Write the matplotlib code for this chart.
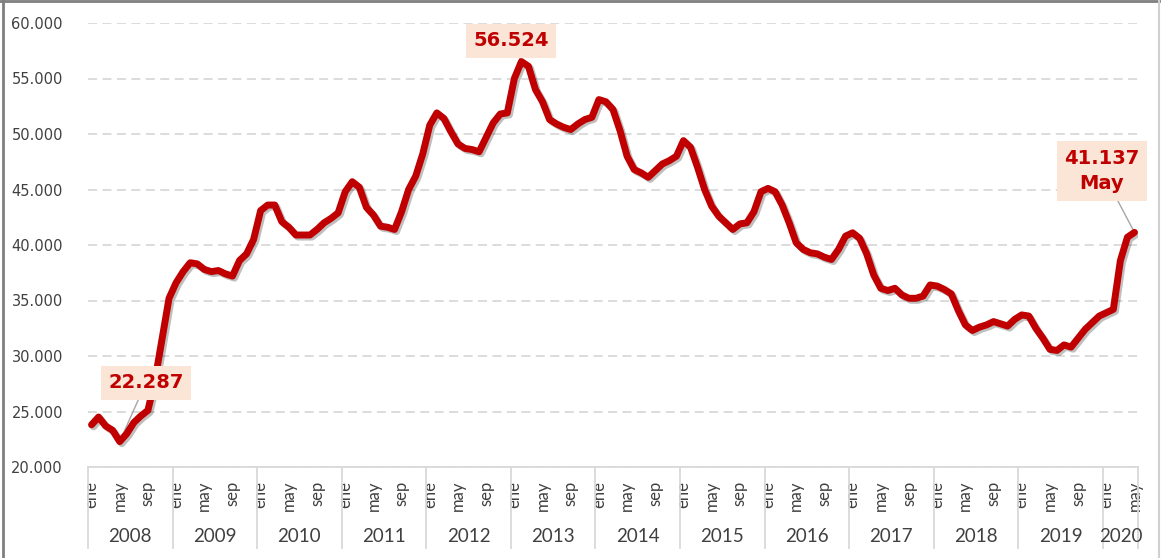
import numpy as np
import matplotlib
matplotlib.use("Agg")
from matplotlib import pyplot as plt
import matplotlib.ticker as ticker
import matplotlib.patheffects as pe
from matplotlib.lines import Line2D
import matplotlib.transforms as mtransforms

# Datos mensuales, ene 2008 - may 2020
years = [2008, 2009, 2010, 2011, 2012, 2013, 2014, 2015, 2016, 2017, 2018, 2019, 2020]
month_names = ["ene", "feb", "mar", "abr", "may", "jun",
               "jul", "ago", "sep", "oct", "nov", "dic"]

v2008 = [23800, 24500, 23700, 23300, 22287, 23000, 24000, 24600, 25100, 27800, 31500, 35200]
v2009 = [36600, 37600, 38400, 38300, 37800, 37600, 37700, 37400, 37200, 38600, 39200, 40500]
v2010 = [43100, 43600, 43600, 42100, 41600, 40900, 40900, 40900, 41400, 42000, 42400, 42900]
v2011 = [44800, 45700, 45200, 43400, 42700, 41700, 41600, 41400, 43000, 45000, 46200, 48200]
v2012 = [50800, 51900, 51400, 50200, 49100, 48700, 48600, 48400, 49700, 51000, 51800, 51900]
v2013 = [55000, 56524, 56100, 54000, 52900, 51300, 50900, 50600, 50400, 50900, 51300, 51500]
v2014 = [53100, 52900, 52200, 50300, 48000, 46800, 46500, 46100, 46700, 47300, 47600, 48000]
v2015 = [49400, 48800, 47000, 45000, 43500, 42600, 42000, 41400, 41900, 42000, 43000, 44800]
v2016 = [45100, 44800, 43600, 42000, 40200, 39600, 39300, 39200, 38900, 38700, 39600, 40800]
v2017 = [41100, 40600, 39200, 37300, 36100, 35900, 36100, 35500, 35200, 35200, 35400, 36400]
v2018 = [36300, 36000, 35600, 34100, 32800, 32300, 32600, 32800, 33100, 32900, 32700, 33300]
v2019 = [33700, 33600, 32500, 31600, 30600, 30500, 31000, 30800, 31600, 32400, 33000, 33600]
v2020 = [33900, 34200, 38600, 40700, 41137]

values = np.array(v2008 + v2009 + v2010 + v2011 + v2012 + v2013 + v2014
                  + v2015 + v2016 + v2017 + v2018 + v2019 + v2020)
n = len(values)
x = np.arange(n)

red = "#C00000"
peach = "#FBE5D6"
grid_c = "#D9D9D9"
txt_c = "#404040"

fig = plt.figure(figsize=(11.63, 5.58), dpi=100)
ax = fig.add_axes([88 / 1163, 1 - 467 / 558, (1138 - 88) / 1163, (467 - 23) / 558])

ax.plot(x, values, color=red, linewidth=5, solid_capstyle="round",
        solid_joinstyle="round", zorder=4,
        path_effects=[pe.SimpleLineShadow(offset=(1.5, -1.5), shadow_color="black", alpha=0.25),
                      pe.Normal()])

ax.set_xlim(-0.5, n - 0.5)
ax.set_ylim(20000, 60000)
ax.yaxis.set_major_locator(ticker.MultipleLocator(5000))
ax.yaxis.set_major_formatter(ticker.FuncFormatter(lambda v, p: f"{v:,.0f}".replace(",", ".")))
ax.grid(axis="y", color=grid_c, linestyle=(0, (5, 3)), linewidth=1.3, zorder=0)
ax.set_axisbelow(True)

for s in ["top", "right", "left"]:
    ax.spines[s].set_visible(False)
ax.spines["bottom"].set_color(grid_c)
ax.spines["bottom"].set_linewidth(1.3)

ax.tick_params(axis="y", length=0, pad=18, labelsize=10.5, labelcolor=txt_c)
for lab in ax.get_yticklabels():
    lab.set_fontfamily("DejaVu Sans")

# etiquetas de mes
tick_pos = [i for i in x if i % 12 in (0, 4, 8)]
tick_lab = [month_names[i % 12] for i in tick_pos]
ax.set_xticks(tick_pos)
ax.set_xticklabels(tick_lab, rotation=90, fontsize=12, color=txt_c, family="Lato")
ax.tick_params(axis="x", length=0, pad=10)

# años y separadores
trans = mtransforms.blended_transform_factory(ax.transData, ax.transAxes)
bounds = list(range(0, n, 12)) + [n]
for b in bounds:
    ax.add_line(Line2D([b - 0.5, b - 0.5], [0, -81 / 444], transform=trans,
                       color=grid_c, linewidth=1.3, clip_on=False))
for k, yr in enumerate(years):
    c = (bounds[k] + bounds[k + 1] - 1) / 2
    ax.text(c, -70 / 444, str(yr), transform=trans, ha="center", va="center",
            fontsize=13.5, color=txt_c, family="Lato")

# anotaciones
box = dict(boxstyle="square,pad=0.38", facecolor=peach, edgecolor="none")
i_min = int(np.argmin(values[:24]))
i_max = int(np.argmax(values))
i_last = n - 1
notes = [
    (i_min, f"{values[i_min]:,.0f}".replace(",", "."), (7.7, 27570)),
    (i_max, f"{values[i_max]:,.0f}".replace(",", "."), (59.5, 58400)),
    (i_last, f"{values[i_last]:,.0f}".replace(",", ".") + "\nMay", (143.4, 46670)),
]
for idx, label, pos in notes:
    ax.annotate("", xy=(idx, values[idx]), xytext=pos,
                arrowprops=dict(arrowstyle="-", color="#A6A6A6", lw=1.0,
                                shrinkA=0, shrinkB=0), zorder=3)
    ax.text(pos[0], pos[1], label, ha="center", va="center", fontsize=14,
            fontweight="bold", color=red, bbox=box, zorder=6, linespacing=1.45,
            family="DejaVu Sans")

# marco
fig.add_artist(Line2D([3 / 1163, 3 / 1163], [0, 1], transform=fig.transFigure,
                      color="#7F7F7F", linewidth=2))
fig.add_artist(Line2D([0, 1159 / 1163], [1 - 1 / 558, 1 - 1 / 558], transform=fig.transFigure,
                      color="#7F7F7F", linewidth=2))
fig.add_artist(Line2D([1159 / 1163, 1159 / 1163], [0, 1], transform=fig.transFigure,
                      color="#D0D0D0", linewidth=1.5))

fig.savefig("out.png", dpi=100)
